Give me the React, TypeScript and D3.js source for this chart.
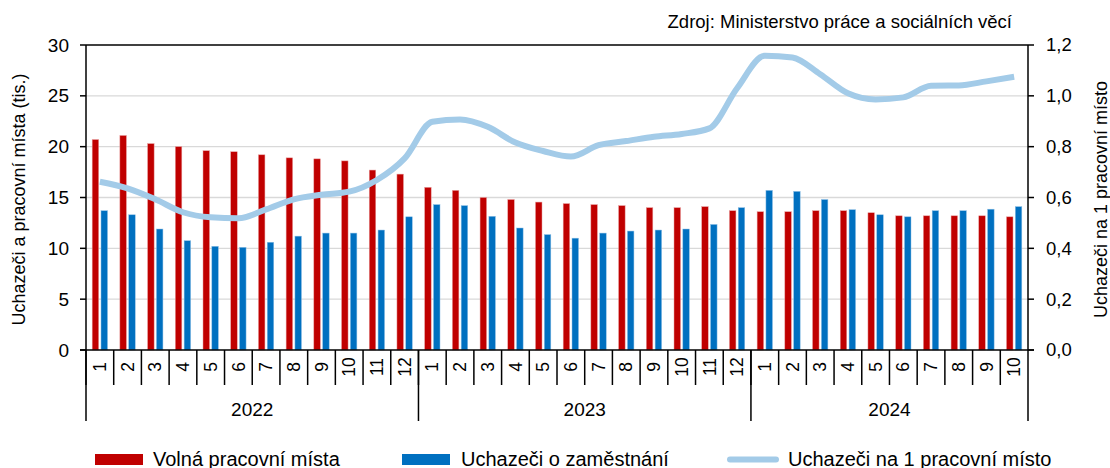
import React from 'react';
import * as d3 from 'd3';

const years = ['2022', '2023', '2024'];
const monthsPerYear = [12, 12, 10];
const monthLabels = [
  '1', '2', '3', '4', '5', '6', '7', '8', '9', '10', '11', '12',
  '1', '2', '3', '4', '5', '6', '7', '8', '9', '10', '11', '12',
  '1', '2', '3', '4', '5', '6', '7', '8', '9', '10',
];
// Volná pracovní místa (tis.)
const vacancies = [
  20.7, 21.1, 20.3, 20.0, 19.6, 19.5, 19.2, 18.9, 18.8, 18.6, 17.7, 17.3,
  16.0, 15.7, 15.0, 14.8, 14.55, 14.4, 14.3, 14.2, 14.0, 14.0, 14.1, 13.7,
  13.6, 13.6, 13.7, 13.7, 13.5, 13.2, 13.2, 13.2, 13.2, 13.1,
];
// Uchazeči o zaměstnání (tis.)
const applicants = [
  13.7, 13.3, 11.9, 10.75, 10.2, 10.1, 10.6, 11.2, 11.5, 11.5, 11.8, 13.1,
  14.3, 14.2, 13.15, 12.0, 11.35, 11.0, 11.5, 11.7, 11.8, 11.9, 12.35, 14.0,
  15.7, 15.6, 14.8, 13.8, 13.3, 13.1, 13.7, 13.7, 13.85, 14.1,
];
// Uchazeči na 1 pracovní místo
const ratio = [
  0.662, 0.636, 0.593, 0.542, 0.522, 0.518, 0.553, 0.593, 0.611, 0.623, 0.669, 0.754,
  0.898, 0.907, 0.878, 0.816, 0.783, 0.761, 0.806, 0.822, 0.839, 0.85, 0.872, 1.03,
  1.158, 1.151, 1.085, 1.01, 0.986, 0.994, 1.04, 1.041, 1.057, 1.075,
];
const leftTicks = [0, 5, 10, 15, 20, 25, 30];
const rightTicks = [0, 0.2, 0.4, 0.6, 0.8, 1.0, 1.2];

const W = 1110;
const H = 468;
const m = { left: 86, right: 1028, top: 45, bottom: 350 };
const font = 'Liberation Sans, Arial, sans-serif';
const RED = '#c00000';
const BLUE = '#0070c0';
const LIGHT = '#a3cbe8';

export default function App() {
  const idx = monthLabels.map((_, i) => i);
  const x = d3.scaleBand<number>().domain(idx).range([m.left, m.right]).padding(0);
  const sub = d3.scaleBand<string>().domain(['v', 'a']).range([0, x.bandwidth()])
    .paddingInner(0.26).paddingOuter(0.7);
  const y = d3.scaleLinear().domain([0, 30]).range([m.bottom, m.top]);
  const y2 = d3.scaleLinear().domain([0, 1.2]).range([m.bottom, m.top]);
  const fmt = (v: number) => v.toFixed(1).replace('.', ',');

  const line = d3.line<number>()
    .x((_, i) => (x(i) as number) + x.bandwidth() / 2)
    .y((d) => y2(d))
    .curve(d3.curveMonotoneX);

  // year boundaries
  const bounds: number[] = [0];
  monthsPerYear.forEach((c, i) => bounds.push(bounds[i] + c));
  const edge = (i: number) => (i < idx.length ? (x(i) as number) : m.right);

  return (
    <svg width={W} height={H} style={{ position: 'absolute', left: 0, top: 0, background: '#fff' }}
      fontFamily={font}>
      <text x={1012} y={28} fontSize={18.5} textAnchor="end" fill="#000">
        Zdroj: Ministerstvo práce a sociálních věcí
      </text>
      {/* grid */}
      {leftTicks.slice(1, -1).map((t) => (
        <line key={t} x1={m.left} x2={m.right} y1={y(t)} y2={y(t)} stroke="#d9d9d9" strokeWidth={1.3} />
      ))}
      {/* bars */}
      {vacancies.map((v, i) => (
        <rect key={'v' + i} x={(x(i) as number) + (sub('v') as number)} width={sub.bandwidth()}
          y={y(v)} height={y(0) - y(v)} fill={RED} stroke="#e8a0a0" strokeWidth={0.5} />
      ))}
      {applicants.map((v, i) => (
        <rect key={'a' + i} x={(x(i) as number) + (sub('a') as number)} width={sub.bandwidth()}
          y={y(v)} height={y(0) - y(v)} fill={BLUE} stroke="#8fc0e6" strokeWidth={0.5} />
      ))}
      <path d={line(ratio) || ''} fill="none" stroke={LIGHT} strokeWidth={6} strokeLinejoin="round" />
      {/* frame */}
      <line x1={m.left} x2={m.right} y1={m.top} y2={m.top} stroke="#000" strokeWidth={1.5} />
      <line x1={m.left} x2={m.left} y1={m.top} y2={m.bottom} stroke="#000" strokeWidth={1.5} />
      <line x1={m.right} x2={m.right} y1={m.top} y2={m.bottom} stroke="#000" strokeWidth={1.5} />
      <line x1={m.left - 6} x2={m.right + 6} y1={m.bottom} y2={m.bottom} stroke="#000" strokeWidth={1.5} />
      {/* left axis */}
      {leftTicks.map((t) => (
        <g key={t}>
          <line x1={m.left - 6} x2={m.left} y1={y(t)} y2={y(t)} stroke="#000" strokeWidth={1.5} />
          <text x={69} y={y(t)} dy="0.35em" fontSize={19} textAnchor="end">{t}</text>
        </g>
      ))}
      {/* right axis */}
      {rightTicks.map((t) => (
        <g key={t}>
          <line x1={m.right} x2={m.right + 6} y1={y2(t)} y2={y2(t)} stroke="#000" strokeWidth={1.5} />
          <text x={1046} y={y2(t)} dy="0.35em" fontSize={18.5} textAnchor="start">{fmt(t)}</text>
        </g>
      ))}
      <text transform={`translate(18.5,${(m.top + m.bottom) / 2 + 2}) rotate(-90)`} fontSize={18}
        textAnchor="middle" dy="0.35em">Uchazeči a pracovní místa (tis.)</text>
      <text transform={`translate(1101,${(m.top + m.bottom) / 2 + 2}) rotate(-90)`} fontSize={18}
        textAnchor="middle" dy="0.35em">Uchazeči na 1 pracovní místo</text>
      {/* x axis months */}
      {idx.map((i) => (
        <g key={'m' + i}>
          <line x1={x(i)} x2={x(i)} y1={m.bottom} y2={385} stroke="#000" strokeWidth={1.5} />
          <text transform={`translate(${(x(i) as number) + x.bandwidth() / 2},367) rotate(-90)`}
            fontSize={17.5} textAnchor="middle" dy="0.35em">{monthLabels[i]}</text>
        </g>
      ))}
      {bounds.map((b) => (
        <line key={'b' + b} x1={edge(b)} x2={edge(b)} y1={m.bottom} y2={421} stroke="#000" strokeWidth={1.5} />
      ))}
      {years.map((yr, k) => (
        <text key={yr} x={(edge(bounds[k]) + edge(bounds[k + 1])) / 2} y={416} fontSize={19}
          textAnchor="middle">{yr}</text>
      ))}
      {/* legend */}
      <rect x={95} y={454} width={48} height={11} fill={RED} />
      <text x={153} y={466} fontSize={20}>Volná pracovní místa</text>
      <rect x={402} y={454} width={48} height={11} fill={BLUE} />
      <text x={461} y={466} fontSize={20}>Uchazeči o zaměstnání</text>
      <line x1={730} x2={776} y1={459.5} y2={459.5} stroke={LIGHT} strokeWidth={6} strokeLinecap="round" />
      <text x={788} y={466} fontSize={20}>Uchazeči na 1 pracovní místo</text>
    </svg>
  );
}
